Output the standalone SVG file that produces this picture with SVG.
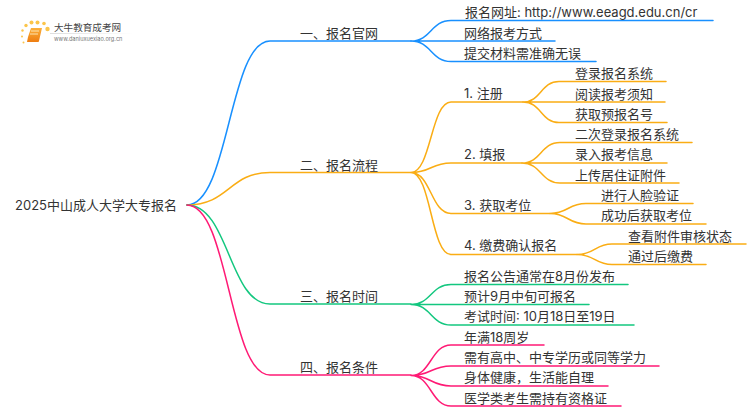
<svg xmlns="http://www.w3.org/2000/svg" width="750" height="410" viewBox="0 0 750 410">
<style>
text{font-family:"Inter","Noto Sans CJK SC",sans-serif;font-size:13px;fill:#333}
.c path{fill:none;stroke-linecap:round}
.a{stroke-width:1.500}
.b{stroke:#1890ff}.o{stroke:#faad14}.g{stroke:#13c77f}.p{stroke:#ff1a75}
.dot{fill:#fbc54a}
</style>
<defs><linearGradient id="fade"><stop offset="0" stop-color="#ddd"/><stop offset="1" stop-color="#ddd" stop-opacity="0"/></linearGradient>
<linearGradient id="bk" x1="0" y1="0" x2="0" y2="1"><stop offset="0" stop-color="#fbb03b"/><stop offset="1" stop-color="#ee7d11"/></linearGradient></defs>
<rect width="750" height="410" fill="#fff"/>
<g id="logo">
<circle class="dot" cx="47.500" cy="29" r="2.200"/><circle class="dot" cx="44" cy="23.500" r="1.800"/><circle class="dot" cx="37.500" cy="22.500" r="2"/><circle class="dot" cx="31.500" cy="22.500" r="2"/><circle class="dot" cx="26" cy="25.500" r="1.700"/><circle class="dot" cx="22.500" cy="30.500" r="1.200"/><circle class="dot" cx="22" cy="36.500" r="1"/><circle class="dot" cx="23.500" cy="42.500" r="1"/>
<path d="M31 28H42L39 41C39 42 38 42 37 42H27L28 37Z" fill="url(#bk)"/><path d="M31 31H39M30 34H38" stroke="#fde3b0" stroke-width="1"/>
<rect x="50" y="33" width="83" height="1" fill="url(#fade)"/>
<text x="54" y="31" style="font-size:9.600px;fill:#444">大牛教育成考网</text>
<text x="54" y="41" style="font-size:5.600px;fill:#777">www.daniuxuexiao.org.cn</text>
</g>
<g class="c" id="connectors">
<path class="a b" d="M187 205C229 205 229 41 270 41H411"/>
<path class="a o" d="M187 205C229 205 229 172.500 270 172.500H411"/>
<path class="a g" d="M187 205C229 205 229 304 270 304H411"/>
<path class="a p" d="M187 205C229 205 229 375 270 375H411"/>
<path class="a b" d="M411 41C431 41 431 20.500 451 20.500H713M411 41H555M411 41C431 41 431 61.500 451 61.500H596"/>
<path class="a o" d="M411 172.500C431 172.500 431 102 451 102H523M411 172.500C431 172.500 431 163 451 163H522M411 172.500C431 172.500 431 213.500 451 213.500H550M411 172.500C431 172.500 431 254.500 451 254.500H577"/>
<path class="a o" d="M523 102C541 102 541 81.500 559 81.500H666M523 102H665M523 102C541 102 541 122.500 559 122.500H667"/>
<path class="a o" d="M522 163C541 163 541 142.500 560 142.500H692M522 163H667M522 163C541 163 541 183 560 183H679"/>
<path class="a o" d="M550 213.500C568 213.500 568 203.500 586 203.500H693M550 213.500C568 213.500 568 224 586 224H706"/>
<path class="a o" d="M577 254.500C595 254.500 595 244 612 244H746M577 254.500C595 254.500 595 264.500 612 264.500H706"/>
<path class="a g" d="M411 304.500C431 304.500 431 284.500 451 284.500H628M411 304.500H589M411 304.500C431 304.500 431 325 451 325H634"/>
<path class="a p" d="M411 375.500C431 375.500 431 345 451 345H544M411 375.500C431 375.500 431 366 451 366H659M411 375.500C431 375.500 431 386 451 386H608M411 375.500C431 375.500 431 406 451 406H621"/>
</g>
<g id="root"><text x="15" y="210">2025中山成人大学大专报名</text></g>
<g id="n1"><text x="300" y="38">一、报名官网</text></g>
<g id="n2"><text x="300" y="170">二、报名流程</text></g>
<g id="n3"><text x="300" y="301">三、报名时间</text></g>
<g id="n4"><text x="300" y="372">四、报名条件</text></g>
<g id="n11"><text x="465" y="17">报名网址: http://www.eeagd.edu.cn/cr</text></g>
<g id="n12"><text x="464" y="38">网络报考方式</text></g>
<g id="n13"><text x="464" y="58">提交材料需准确无误</text></g>
<g id="n21"><text x="464" y="98">1. 注册</text></g>
<g id="n22"><text x="464" y="159">2. 填报</text></g>
<g id="n23"><text x="464" y="210">3. 获取考位</text></g>
<g id="n24"><text x="464" y="250">4. 缴费确认报名</text></g>
<g id="n211"><text x="575" y="78">登录报名系统</text></g>
<g id="n212"><text x="575" y="99">阅读报考须知</text></g>
<g id="n213"><text x="575" y="119">获取预报名号</text></g>
<g id="n221"><text x="575" y="139">二次登录报名系统</text></g>
<g id="n222"><text x="575" y="159">录入报考信息</text></g>
<g id="n223"><text x="575" y="180">上传居住证附件</text></g>
<g id="n231"><text x="601" y="200">进行人脸验证</text></g>
<g id="n232"><text x="601" y="220">成功后获取考位</text></g>
<g id="n241"><text x="628" y="241">查看附件审核状态</text></g>
<g id="n242"><text x="628" y="261">通过后缴费</text></g>
<g id="n31"><text x="464" y="281">报名公告通常在8月份发布</text></g>
<g id="n32"><text x="464" y="301">预计9月中旬可报名</text></g>
<g id="n33"><text x="464" y="321">考试时间: 10月18日至19日</text></g>
<g id="n41"><text x="464" y="342">年满18周岁</text></g>
<g id="n42"><text x="464" y="362">需有高中、中专学历或同等学力</text></g>
<g id="n43"><text x="464" y="382">身体健康，生活能自理</text></g>
<g id="n44"><text x="464" y="403">医学类考生需持有资格证</text></g>
</svg>
